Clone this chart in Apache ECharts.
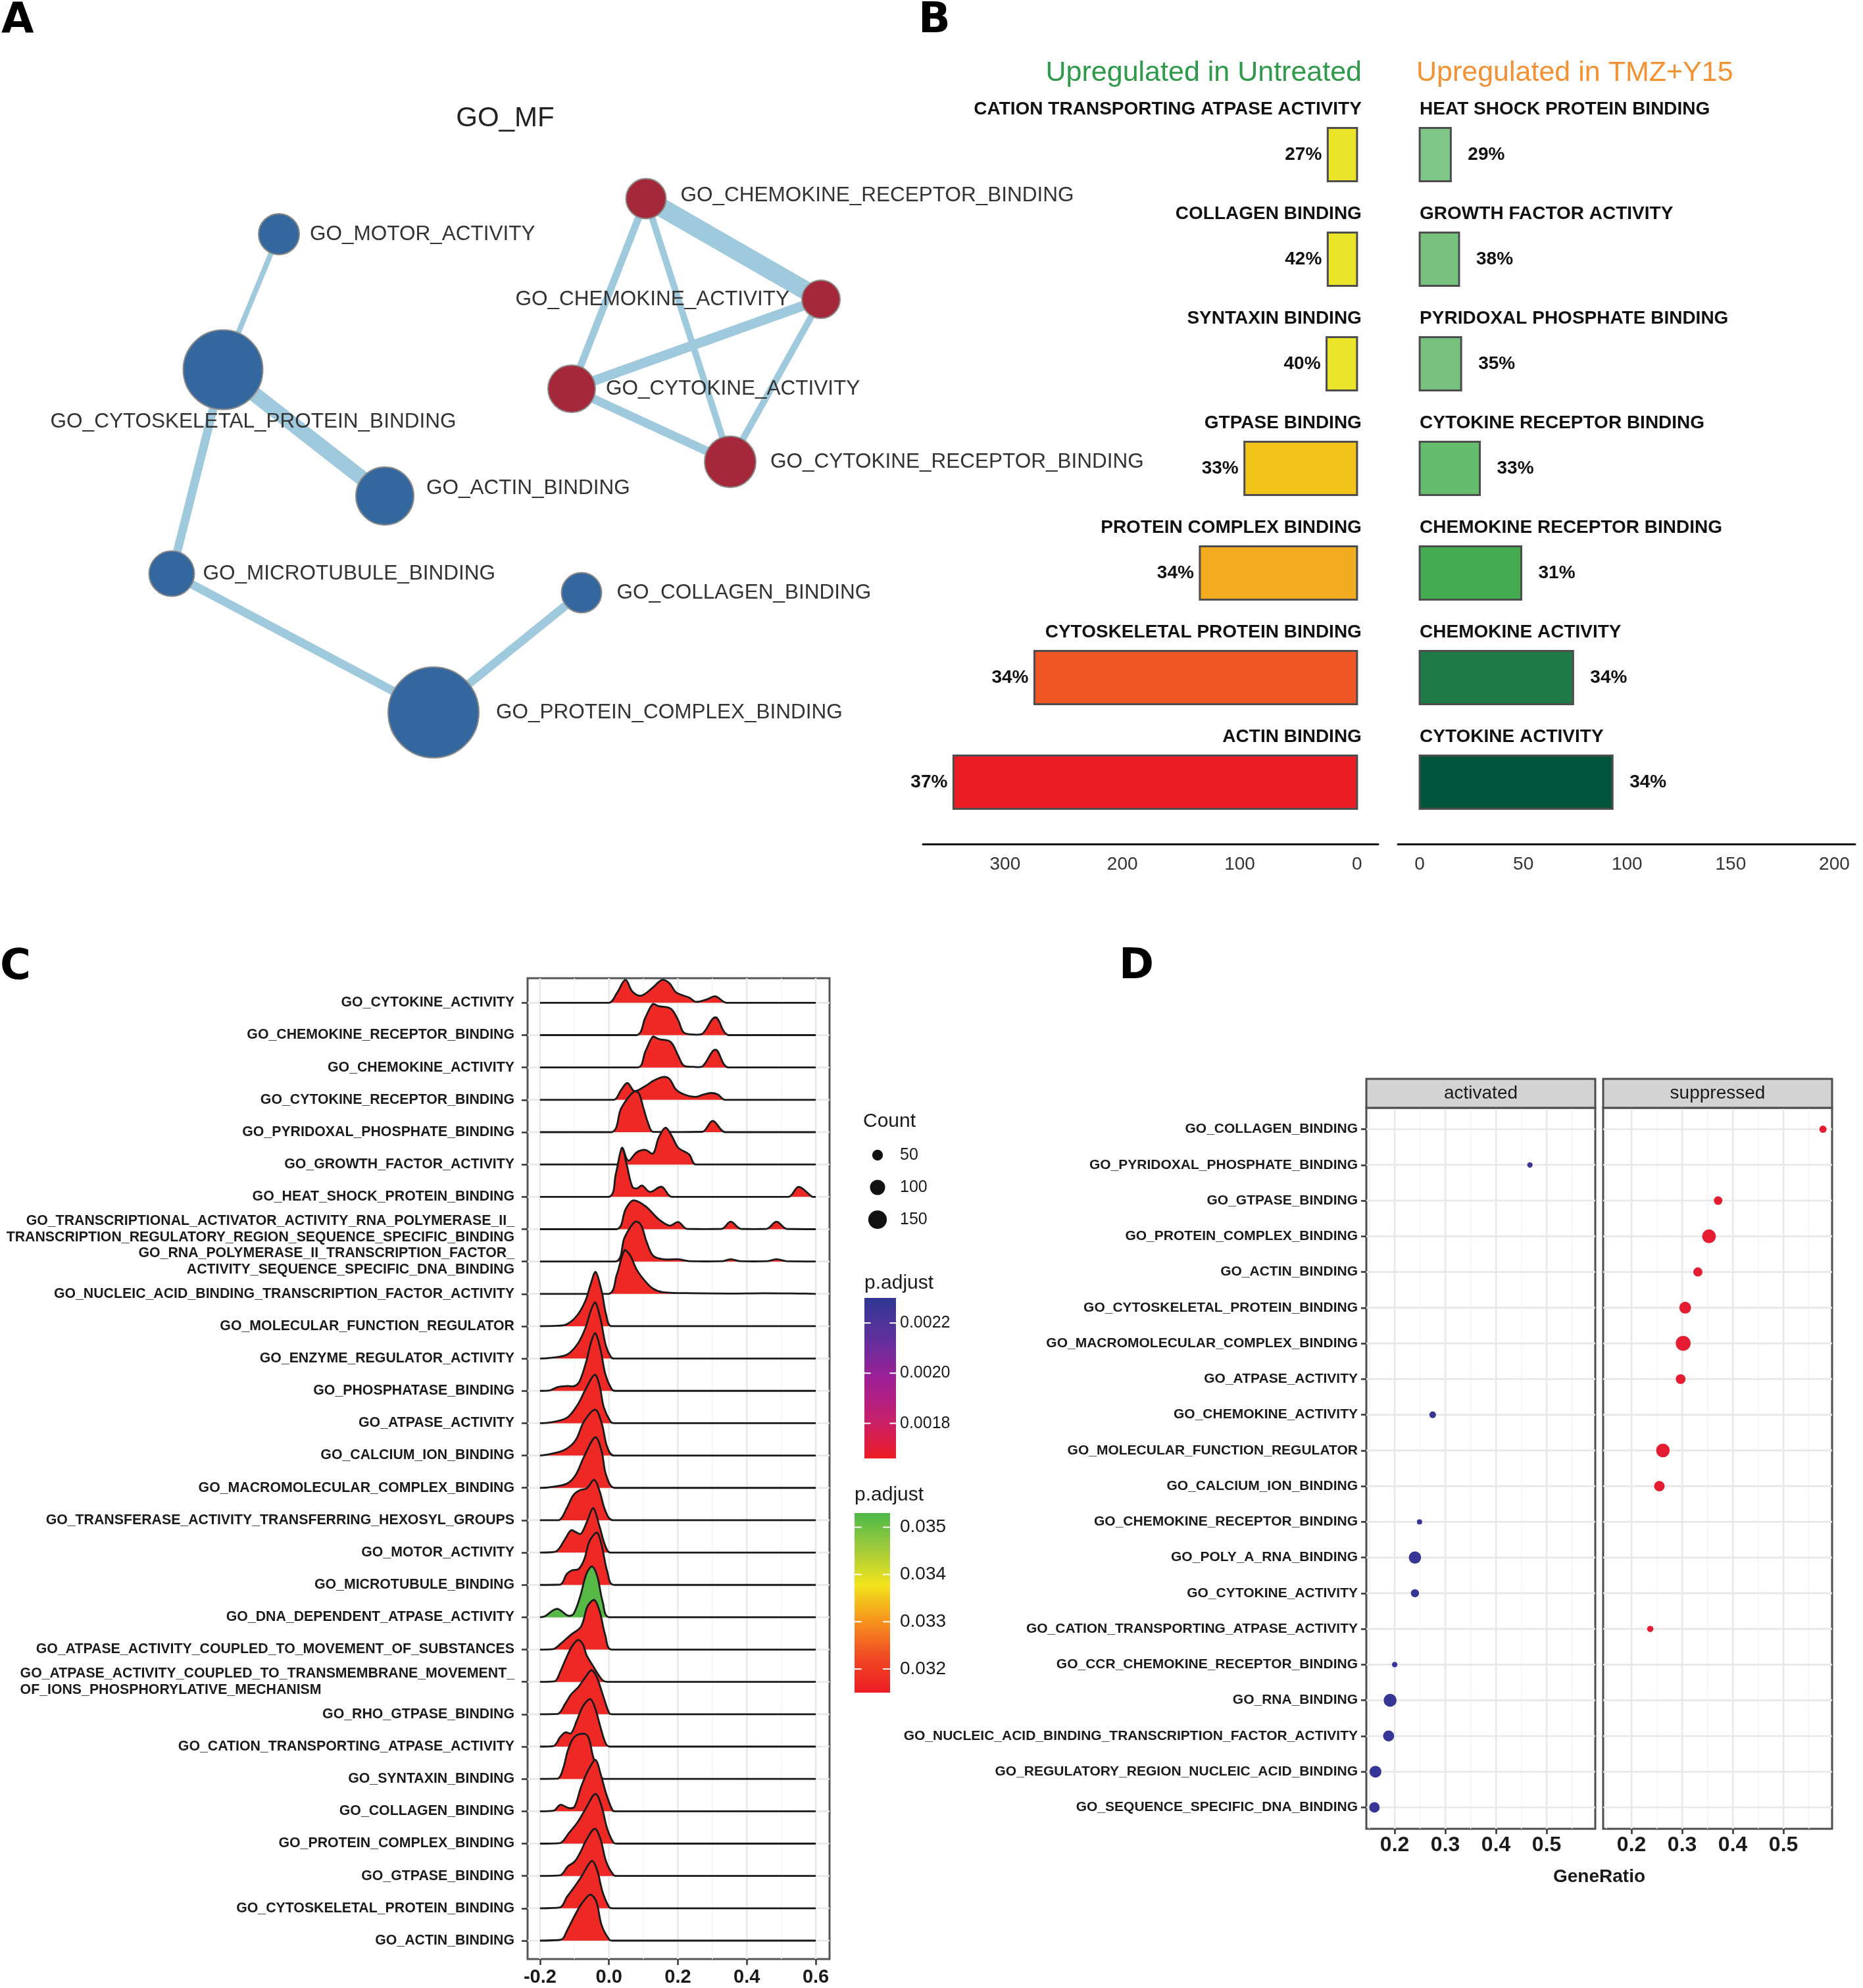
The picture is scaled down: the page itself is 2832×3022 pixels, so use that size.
<!DOCTYPE html>
<html><head><meta charset="utf-8"><title>GO enrichment figure</title>
<script src="https://cdn.jsdelivr.net/npm/echarts@6/dist/echarts.min.js"></script>
<style>html,body{margin:0;padding:0;background:#fff;}#chart{width:2832px;height:3022px;}</style>
</head><body><div id="chart"></div>
<script>
// ================= DATA =================
// ---- Panel A : GO_MF enrichment map ----
const netTerms = ['GO_MOTOR_ACTIVITY','GO_CYTOSKELETAL_PROTEIN_BINDING','GO_ACTIN_BINDING','GO_MICROTUBULE_BINDING','GO_COLLAGEN_BINDING','GO_PROTEIN_COMPLEX_BINDING','GO_CHEMOKINE_RECEPTOR_BINDING','GO_CHEMOKINE_ACTIVITY','GO_CYTOKINE_ACTIVITY','GO_CYTOKINE_RECEPTOR_BINDING'];
const netX = [424,339,585,261,884,659,982,1248,869,1110];
const netY = [356,562,754,872,901,1083,302,455,591,702];
const netNodeSize = [62,121,88,69,61,138,61,58,72,78];
const netRegulation = ['down','down','down','down','down','down','up','up','up','up'];
const netLinkSource = [0,1,1,3,4,6,6,6,7,7,8];
const netLinkTarget = [1,2,3,5,5,7,8,9,8,9,9];
const netLinkWidth  = [8,23,13,13,13,28,11,10,15,10,13];

// ---- Panel B : top terms per condition ----
const untreatedTerms = ['CATION TRANSPORTING ATPASE ACTIVITY','COLLAGEN BINDING','SYNTAXIN BINDING','GTPASE BINDING','PROTEIN COMPLEX BINDING','CYTOSKELETAL PROTEIN BINDING','ACTIN BINDING'];
const untreatedCount = [25,25,26,96,134,275,344];
const untreatedPct   = [27,42,40,33,34,34,37];
const tmzTerms = ['HEAT SHOCK PROTEIN BINDING','GROWTH FACTOR ACTIVITY','PYRIDOXAL PHOSPHATE BINDING','CYTOKINE RECEPTOR BINDING','CHEMOKINE RECEPTOR BINDING','CHEMOKINE ACTIVITY','CYTOKINE ACTIVITY'];
const tmzCount = [15,19,20,29,49,74,93];
const tmzPct   = [29,38,35,33,31,34,34];
const untreatedTicks = [0,100,200,300];
const tmzTicks = [0,50,100,150,200];

// ---- Panel C : ridgeline of core-enrichment distributions (top row first) ----
const ridgeTerms = ['GO_CYTOKINE_ACTIVITY','GO_CHEMOKINE_RECEPTOR_BINDING','GO_CHEMOKINE_ACTIVITY','GO_CYTOKINE_RECEPTOR_BINDING','GO_PYRIDOXAL_PHOSPHATE_BINDING','GO_GROWTH_FACTOR_ACTIVITY','GO_HEAT_SHOCK_PROTEIN_BINDING',
 'GO_TRANSCRIPTIONAL_ACTIVATOR_ACTIVITY_RNA_POLYMERASE_II_\nTRANSCRIPTION_REGULATORY_REGION_SEQUENCE_SPECIFIC_BINDING',
 'GO_RNA_POLYMERASE_II_TRANSCRIPTION_FACTOR_\nACTIVITY_SEQUENCE_SPECIFIC_DNA_BINDING',
 'GO_NUCLEIC_ACID_BINDING_TRANSCRIPTION_FACTOR_ACTIVITY','GO_MOLECULAR_FUNCTION_REGULATOR','GO_ENZYME_REGULATOR_ACTIVITY','GO_PHOSPHATASE_BINDING','GO_ATPASE_ACTIVITY','GO_CALCIUM_ION_BINDING','GO_MACROMOLECULAR_COMPLEX_BINDING','GO_TRANSFERASE_ACTIVITY_TRANSFERRING_HEXOSYL_GROUPS','GO_MOTOR_ACTIVITY','GO_MICROTUBULE_BINDING','GO_DNA_DEPENDENT_ATPASE_ACTIVITY','GO_ATPASE_ACTIVITY_COUPLED_TO_MOVEMENT_OF_SUBSTANCES',
 'GO_ATPASE_ACTIVITY_COUPLED_TO_TRANSMEMBRANE_MOVEMENT_\nOF_IONS_PHOSPHORYLATIVE_MECHANISM',
 'GO_RHO_GTPASE_BINDING','GO_CATION_TRANSPORTING_ATPASE_ACTIVITY','GO_SYNTAXIN_BINDING','GO_COLLAGEN_BINDING','GO_PROTEIN_COMPLEX_BINDING','GO_GTPASE_BINDING','GO_CYTOSKELETAL_PROTEIN_BINDING','GO_ACTIN_BINDING'];
const ridgePadj = [0.0317,0.0317,0.0317,0.0317,0.0317,0.0317,0.0317,0.0317,0.0317,0.0317,0.0317,0.0317,0.0317,0.0317,0.0317,0.0317,0.0317,0.0317,0.0317,0.0352,0.0317,0.0317,0.0317,0.0317,0.0317,0.0317,0.0317,0.0317,0.0317,0.0317];
// each curve: [x, density height in row units]
const ridgeCurves = [
 [[0.0,0],[0.023,0.3],[0.048,0.71],[0.068,0.35],[0.093,0.22],[0.125,0.45],[0.155,0.71],[0.176,0.6],[0.195,0.32],[0.233,0.16],[0.252,0.03],[0.283,0.1],[0.309,0.2],[0.341,0]],
 [[0.08,0],[0.106,0.55],[0.128,0.97],[0.144,0.9],[0.179,0.82],[0.201,0.46],[0.217,0.08],[0.245,0.02],[0.271,0.04],[0.309,0.55],[0.347,0]],
 [[0.084,0],[0.106,0.5],[0.128,0.96],[0.144,0.88],[0.179,0.79],[0.201,0.36],[0.217,0.06],[0.245,0.02],[0.271,0.03],[0.309,0.55],[0.346,0]],
 [[0.014,0],[0.035,0.3],[0.054,0.52],[0.074,0.27],[0.106,0.43],[0.131,0.6],[0.16,0.71],[0.176,0.64],[0.195,0.31],[0.22,0.16],[0.252,0.09],[0.271,0.15],[0.296,0.21],[0.315,0.17],[0.337,0]],
 [[0.008,0],[0.036,0.75],[0.074,1.27],[0.087,1.2],[0.1,0.75],[0.115,0.24],[0.128,0.01],[0.271,0.01],[0.301,0.35],[0.337,0]],
 [[0.023,0],[0.038,0.52],[0.056,0.12],[0.081,0.38],[0.106,0.45],[0.128,0.34],[0.144,0.82],[0.164,1.14],[0.182,0.89],[0.201,0.52],[0.233,0.31],[0.252,0]],
 [[0.0,0],[0.02,0.71],[0.038,1.51],[0.052,0.97],[0.068,0.31],[0.081,0.26],[0.096,0.35],[0.119,0.15],[0.153,0.31],[0.182,0],[0.521,0],[0.55,0.31],[0.59,0]],
 [[0.023,0],[0.049,0.63],[0.071,0.89],[0.106,0.71],[0.144,0.31],[0.176,0.11],[0.201,0.22],[0.226,0.01],[0.328,0.01],[0.353,0.23],[0.382,0.01],[0.458,0.01],[0.486,0.23],[0.515,0.01]],
 [[0.02,0],[0.046,0.76],[0.077,1.24],[0.093,1.13],[0.109,0.62],[0.128,0.18],[0.157,0.07],[0.201,0.07],[0.233,0.01],[0.33,0.01],[0.353,0.07],[0.38,0.01],[0.46,0.01],[0.486,0.07],[0.515,0.01]],
 [[0.0,0],[0.023,0.6],[0.046,1.36],[0.062,1.18],[0.081,0.74],[0.106,0.38],[0.128,0.16],[0.157,0.05],[0.25,0.02],[0.35,0.01],[0.45,0.02],[0.55,0.01]],
 [[-0.154,0.01],[-0.122,0.06],[-0.091,0.35],[-0.068,0.79],[-0.053,1.3],[-0.039,1.68],[-0.021,1.08],[-0.008,0.35],[0.008,0]],
 [[-0.17,0.02],[-0.122,0.12],[-0.091,0.45],[-0.068,0.95],[-0.052,1.5],[-0.04,1.74],[-0.024,1.2],[-0.009,0.4],[0.006,0.04],[0.016,0]],
 [[-0.17,0.02],[-0.148,0.12],[-0.122,0.15],[-0.1,0.15],[-0.085,0.3],[-0.066,0.9],[-0.052,1.5],[-0.04,1.79],[-0.025,1.3],[-0.01,0.5],[0.008,0.05],[0.018,0]],
 [[-0.173,0.02],[-0.122,0.17],[-0.091,0.57],[-0.068,1.04],[-0.041,1.5],[-0.027,1.15],[-0.015,0.5],[0.004,0.06],[0.015,0]],
 [[-0.173,0.04],[-0.128,0.18],[-0.097,0.47],[-0.072,1.06],[-0.04,1.42],[-0.021,1.0],[-0.005,0.26],[0.014,0]],
 [[-0.173,0.02],[-0.122,0.13],[-0.097,0.39],[-0.072,0.97],[-0.039,1.57],[-0.021,1.12],[-0.008,0.39],[0.017,0]],
 [[-0.145,0],[-0.122,0.38],[-0.103,0.78],[-0.084,0.93],[-0.065,0.98],[-0.043,1.25],[-0.027,0.9],[-0.011,0.31],[0.011,0]],
 [[-0.154,0.03],[-0.126,0.44],[-0.11,0.69],[-0.094,0.62],[-0.081,0.58],[-0.062,1.0],[-0.046,1.38],[-0.027,0.8],[-0.011,0.22],[0.004,0]],
 [[-0.141,0.01],[-0.122,0.34],[-0.107,0.45],[-0.088,0.49],[-0.072,0.78],[-0.056,1.36],[-0.035,1.62],[-0.021,1.22],[-0.005,0.42],[0.014,0]],
 [[-0.186,0.03],[-0.151,0.26],[-0.119,0.05],[-0.103,0.1],[-0.084,0.62],[-0.065,1.35],[-0.049,1.57],[-0.034,1.27],[-0.018,0.47],[0.001,0]],
 [[-0.16,0.02],[-0.141,0.17],[-0.11,0.46],[-0.081,0.71],[-0.062,1.34],[-0.043,1.54],[-0.027,1.19],[-0.011,0.46],[0.008,0]],
 [[-0.157,0.02],[-0.141,0.32],[-0.126,0.69],[-0.107,1.1],[-0.089,1.3],[-0.075,1.15],[-0.065,0.83],[-0.046,0.49],[-0.034,0.28],[-0.018,0.05],[-0.005,0]],
 [[-0.148,0.01],[-0.126,0.34],[-0.11,0.61],[-0.088,0.85],[-0.068,1.15],[-0.051,1.36],[-0.037,1.19],[-0.018,0.61],[0.001,0.03],[0.01,0]],
 [[-0.16,0.02],[-0.141,0.3],[-0.126,0.44],[-0.11,0.41],[-0.094,0.78],[-0.075,1.25],[-0.054,1.47],[-0.04,1.19],[-0.024,0.58],[-0.008,0.07],[0.005,0]],
 [[-0.148,0.01],[-0.132,0.35],[-0.119,0.89],[-0.1,1.3],[-0.072,1.4],[-0.059,1.27],[-0.046,0.69],[-0.03,0.22],[-0.015,0]],
 [[-0.16,0.02],[-0.141,0.2],[-0.116,0.1],[-0.1,0.14],[-0.081,0.75],[-0.059,1.29],[-0.039,1.59],[-0.024,1.15],[-0.008,0.54],[0.011,0.02],[0.02,0]],
 [[-0.141,0.02],[-0.116,0.33],[-0.091,0.66],[-0.068,1.07],[-0.039,1.54],[-0.021,1.14],[-0.005,0.46],[0.014,0.02],[0.025,0]],
 [[-0.141,0.02],[-0.119,0.3],[-0.1,0.44],[-0.084,0.71],[-0.065,1.12],[-0.041,1.46],[-0.024,1.12],[-0.008,0.44],[0.014,0.02],[0.025,0]],
 [[-0.141,0.03],[-0.122,0.35],[-0.103,0.62],[-0.081,0.96],[-0.049,1.47],[-0.034,1.17],[-0.018,0.49],[0.001,0.03],[0.01,0]],
 [[-0.138,0.03],[-0.122,0.3],[-0.094,0.88],[-0.075,1.2],[-0.054,1.42],[-0.037,1.22],[-0.021,0.47],[0.001,0.03],[0.01,0]]
];
const ridgeXRange = [-0.2, 0.6];
const ridgeXTicks = [-0.2, 0, 0.2, 0.4, 0.6];
const ridgeXMinor = [-0.1, 0.1, 0.3, 0.5];
const ridgeLegendTicks = [0.032, 0.033, 0.034, 0.035];

// ---- Panel D : dot plot activated / suppressed ----
const dotTerms = ['GO_COLLAGEN_BINDING','GO_PYRIDOXAL_PHOSPHATE_BINDING','GO_GTPASE_BINDING','GO_PROTEIN_COMPLEX_BINDING','GO_ACTIN_BINDING','GO_CYTOSKELETAL_PROTEIN_BINDING','GO_MACROMOLECULAR_COMPLEX_BINDING','GO_ATPASE_ACTIVITY','GO_CHEMOKINE_ACTIVITY','GO_MOLECULAR_FUNCTION_REGULATOR','GO_CALCIUM_ION_BINDING','GO_CHEMOKINE_RECEPTOR_BINDING','GO_POLY_A_RNA_BINDING','GO_CYTOKINE_ACTIVITY','GO_CATION_TRANSPORTING_ATPASE_ACTIVITY','GO_CCR_CHEMOKINE_RECEPTOR_BINDING','GO_RNA_BINDING','GO_NUCLEIC_ACID_BINDING_TRANSCRIPTION_FACTOR_ACTIVITY','GO_REGULATORY_REGION_NUCLEIC_ACID_BINDING','GO_SEQUENCE_SPECIFIC_DNA_BINDING'];
const actTerm  = [1,8,11,12,13,15,16,17,18,19];
const actRatio = [0.467,0.275,0.249,0.240,0.240,0.200,0.191,0.188,0.162,0.160];
const actCount = [13,19,12,66,29,13,73,53,61,48];
const actPadj  = [0.00226,0.00228,0.00228,0.00228,0.00228,0.00228,0.00228,0.00228,0.00228,0.00228];
const supTerm  = [0,2,3,4,5,6,7,9,10,14];
const supRatio = [0.578,0.371,0.353,0.331,0.306,0.302,0.297,0.262,0.255,0.237];
const supCount = [23,32,83,37,61,97,42,81,48,17];
const supPadj  = [0.00169,0.00169,0.00169,0.00169,0.00169,0.00169,0.00169,0.00169,0.00169,0.00169];
const dotXTicks = [0.2, 0.3, 0.4, 0.5];
const dotXMinor = [0.15, 0.25, 0.35, 0.45, 0.55];
const countLegendValues = [50, 100, 150];
const padjLegendTicks = [0.0018, 0.0020, 0.0022];

// ================= STYLE / LAYOUT =================
const FONT = "'Liberation Sans', Arial, Helvetica, sans-serif";
const LETTER_FONT = "'DejaVu Sans', sans-serif";
const untreatedColors = ['#ebe52a','#ebe52a','#ebe52a','#f2c31a','#f3ac20','#f05526','#ec1c24'];
const tmzColors = ['#7fc787','#77c27f','#75c17d','#65bc6c','#43aa4f','#1f7b45','#00563a'];
const ridgeColors = ['#ed1c24','#f04a24','#f7941d','#f2e41c','#a2cb3b','#4cb848'];
const ridgeColorRange = [0.0315, 0.0353];
const padjColors = ['#ed1c24','#c4206e','#9e1f96','#60309c','#2f3794'];
const padjColorRange = [0.00166, 0.0023];
const dotSize = c => 2.3 * Math.sqrt(c);

const netLabelStyle = [
 {position:'right', distance:15},
 {position:'bottom', distance:2, offset:[46,0]},
 {position:'right', distance:18, offset:[0,-12]},
 {position:'right', distance:12},
 {position:'right', distance:22},
 {position:'right', distance:25},
 {position:'right', distance:21, offset:[0,-5]},
 {position:'left', distance:18},
 {position:'right', distance:15},
 {position:'right', distance:21}
];

const L = {
  bTop:155.5, bBandH:159, bBarH:81, bLabelDy:69,
  bLeft:{left:1403, width:692, min:-18, max:370},
  bRight:{left:2125, width:695, min:-10.5, max:210},
  c:{left:802, top:1487, width:459, height:1491, xmin:-0.236, xmax:0.640, ymin:-0.57, ymax:29.76},
  d:{top:1684, height:1096, leftA:2077, leftS:2437, width:348, xmin:0.144, xmax:0.596, ymin:-0.6, ymax:19.6}
};

function txt(text, x, y, o) {
  o = o || {};
  const al = o.align || 'left', va = o.va || 'middle';
  return {type:'text', silent:true, z:10, style:{text:text, x:x, y:y, fill:o.color||'#222', fontSize:o.size||28,
    fontWeight:o.weight||'normal', fontFamily:o.family||FONT, align:al, verticalAlign:va, textAlign:al, textVerticalAlign:va}};
}

function gridLines(ai, xMajor, xMinor, yMajor, xr, yr) {
  return {
    type:'custom', xAxisIndex:ai, yAxisIndex:ai, silent:true, z:1,
    data:[[xr[0], yr[0]]],
    renderItem: function (params, api) {
      const ch = [];
      const add = (a, b, c, w) => ch.push({type:'line', shape:{x1:a[0], y1:a[1], x2:b[0], y2:b[1]}, style:{stroke:c, lineWidth:w}});
      xMinor.forEach(v => add(api.coord([v, yr[0]]), api.coord([v, yr[1]]), '#f3f3f3', 1.4));
      xMajor.forEach(v => add(api.coord([v, yr[0]]), api.coord([v, yr[1]]), '#e8e8e8', 2.6));
      yMajor.forEach(v => add(api.coord([xr[0], v]), api.coord([xr[1], v]), '#e8e8e8', 2.6));
      return {type:'group', children:ch};
    }
  };
}

function barSeries(ai, counts, pcts, terms, colors, isLeft) {
  return {
    type:'custom', xAxisIndex:ai, yAxisIndex:ai, silent:true, z:3,
    data: counts.map((v, i) => [v, i]),
    renderItem: function (params, api) {
      const i = api.value(1), v = api.value(0);
      const p0 = api.coord([0, i]), p1 = api.coord([v, i]);
      const x = Math.min(p0[0], p1[0]), w = Math.abs(p1[0] - p0[0]);
      const h = L.bBarH;
      const ch = [{type:'rect', shape:{x:x, y:p0[1] - h / 2, width:w, height:h}, style:{fill:colors[i], stroke:'#4d4d4d', lineWidth:3}}];
      if (isLeft) {
        ch.push(txt(pcts[i] + '%', x - 9, p0[1], {align:'right', weight:'bold', color:'#111'}));
        ch.push(txt(terms[i], p0[0] + 7, p0[1] - L.bLabelDy, {align:'right', weight:'bold', color:'#111'}));
      } else {
        ch.push(txt(pcts[i] + '%', x + w + 26, p0[1], {weight:'bold', color:'#111'}));
        ch.push(txt(terms[i], p0[0], p0[1] - L.bLabelDy, {weight:'bold', color:'#111'}));
      }
      return {type:'group', children:ch};
    }
  };
}

function gradientStops(colors) {
  return colors.map((c, k) => ({offset: 1 - k / (colors.length - 1), color: c}));
}

const rowCount = ridgeTerms.length;
const rowValues = ridgeTerms.map((t, i) => i);
const dotValues = dotTerms.map((t, i) => i);

// ---- axes ----
const hidden = {show:false};
const xAxes = [
  {gridIndex:0, type:'value', min:0, max:2832, show:false},
  {gridIndex:1, type:'value', min:L.bLeft.min, max:L.bLeft.max, inverse:true, offset:14.5,
    axisLine:{show:true, onZero:false, lineStyle:{color:'#111', width:3}}, axisTick:hidden, splitLine:hidden,
    axisLabel:{customValues:untreatedTicks, margin:17, fontSize:28, color:'#333', fontFamily:FONT}},
  {gridIndex:2, type:'value', min:L.bRight.min, max:L.bRight.max, offset:14.5,
    axisLine:{show:true, onZero:false, lineStyle:{color:'#111', width:3}}, axisTick:hidden, splitLine:hidden,
    axisLabel:{customValues:tmzTicks, margin:17, fontSize:28, color:'#333', fontFamily:FONT}},
  {gridIndex:3, type:'value', min:L.c.xmin, max:L.c.xmax, splitLine:hidden,
    axisLine:{show:false, onZero:false}, axisTick:{show:true, customValues:ridgeXTicks, length:9, lineStyle:{color:'#333', width:2.5}},
    axisLabel:{customValues:ridgeXTicks, margin:13, fontSize:29, fontWeight:'bold', color:'#1a1a1a', fontFamily:FONT, formatter:v => v.toFixed(1)}},
  {gridIndex:4, type:'value', min:L.d.xmin, max:L.d.xmax, splitLine:hidden,
    axisLine:{show:false, onZero:false}, axisTick:{show:true, customValues:dotXTicks, length:8, lineStyle:{color:'#333', width:2.5}},
    axisLabel:{customValues:dotXTicks, margin:9, fontSize:32, fontWeight:'bold', color:'#1a1a1a', fontFamily:FONT, formatter:v => v.toFixed(1)}},
  {gridIndex:5, type:'value', min:L.d.xmin, max:L.d.xmax, splitLine:hidden,
    axisLine:{show:false, onZero:false}, axisTick:{show:true, customValues:dotXTicks, length:8, lineStyle:{color:'#333', width:2.5}},
    axisLabel:{customValues:dotXTicks, margin:9, fontSize:32, fontWeight:'bold', color:'#1a1a1a', fontFamily:FONT, formatter:v => v.toFixed(1)}}
];
const ridgeLabelFont = {fontSize:21.3, fontWeight:'bold', color:'#1a1a1a', fontFamily:FONT};
const yAxes = [
  {gridIndex:0, type:'value', min:0, max:3022, inverse:true, show:false},
  {gridIndex:1, type:'category', data:untreatedTerms, inverse:true, show:false},
  {gridIndex:2, type:'category', data:tmzTerms, inverse:true, show:false},
  {gridIndex:3, type:'value', min:L.c.ymin, max:L.c.ymax, splitLine:hidden,
    axisLine:{show:false, onZero:false}, axisTick:{show:true, customValues:rowValues, length:9, lineStyle:{color:'#333', width:2.5}},
    axisLabel:Object.assign({customValues:rowValues, margin:20, lineHeight:25,
      formatter: v => {
        const t = ridgeTerms[rowCount - 1 - Math.round(v)] || '';
        if (t.indexOf('TRANSMEMBRANE') >= 0) return t.split('\n').map(s => '{l|' + s + '}').join('\n');
        return t;
      },
      rich:{l:Object.assign({align:'left', lineHeight:25}, ridgeLabelFont)}}, ridgeLabelFont)},
  {gridIndex:4, type:'value', min:L.d.ymin, max:L.d.ymax, inverse:true, splitLine:hidden,
    axisLine:{show:false, onZero:false}, axisTick:{show:true, customValues:dotValues, length:8, lineStyle:{color:'#333', width:2.5}},
    axisLabel:{customValues:dotValues, margin:13, fontSize:21, fontWeight:'bold', color:'#1a1a1a', fontFamily:FONT, formatter: v => dotTerms[Math.round(v)] || ''}},
  {gridIndex:5, type:'value', min:L.d.ymin, max:L.d.ymax, inverse:true, splitLine:hidden,
    axisLine:{show:false, onZero:false}, axisTick:hidden, axisLabel:hidden}
];

const grids = [
  {left:0, top:0, width:2832, height:3022, show:false},
  {left:L.bLeft.left, top:L.bTop, width:L.bLeft.width, height:L.bBandH * 7, show:false},
  {left:L.bRight.left, top:L.bTop, width:L.bRight.width, height:L.bBandH * 7, show:false},
  {left:L.c.left, top:L.c.top, width:L.c.width, height:L.c.height, show:true, borderColor:'#555', borderWidth:3, backgroundColor:'#fff'},
  {left:L.d.leftA, top:L.d.top, width:L.d.width, height:L.d.height, show:true, borderColor:'#4d4d4d', borderWidth:3, backgroundColor:'#fff'},
  {left:L.d.leftS, top:L.d.top, width:L.d.width, height:L.d.height, show:true, borderColor:'#4d4d4d', borderWidth:3, backgroundColor:'#fff'}
];

// ---- series ----
const series = [];
series.push({
  type:'graph', coordinateSystem:'cartesian2d', xAxisIndex:0, yAxisIndex:0, silent:true, z:3,
  symbol:'circle', edgeSymbol:['none','none'],
  data: netTerms.map((t, i) => ({name:t, value:[netX[i], netY[i]], symbolSize:netNodeSize[i],
    itemStyle:{color: netRegulation[i] === 'up' ? '#a5283a' : '#35679f', borderColor:'#8a8a8a', borderWidth:2},
    label:Object.assign({show:true, fontSize:31.5, color:'#333', fontFamily:FONT, formatter:'{b}'}, netLabelStyle[i])})),
  links: netLinkSource.map((s, i) => ({source:s, target:netLinkTarget[i], lineStyle:{width:netLinkWidth[i]}})),
  lineStyle:{color:'#9fc9dc', opacity:1, curveness:0}
});
series.push(barSeries(1, untreatedCount, untreatedPct, untreatedTerms, untreatedColors, true));
series.push(barSeries(2, tmzCount, tmzPct, tmzTerms, tmzColors, false));
series.push(gridLines(3, ridgeXTicks, ridgeXMinor, rowValues, [L.c.xmin, L.c.xmax], [L.c.ymin, L.c.ymax]));
series.push({
  type:'custom', xAxisIndex:3, yAxisIndex:3, silent:true, z:2,
  data: ridgeTerms.map((t, i) => [i, ridgePadj[i]]),
  renderItem: function (params, api) {
    const i = params.dataIndex;
    const base = rowCount - 1 - i;
    const pts = [[ridgeXRange[0], 0]].concat(ridgeCurves[i], [[ridgeXRange[1], 0]]);
    const pix = pts.map(p => api.coord([p[0], base + p[1]]));
    let mnx = Infinity, mny = Infinity, mxx = -Infinity, mxy = -Infinity;
    pix.forEach(p => { mnx = Math.min(mnx, p[0]); mny = Math.min(mny, p[1]); mxx = Math.max(mxx, p[0]); mxy = Math.max(mxy, p[1]); });
    const cons = [[mnx, mny], [mxx, mxy]];
    return {type:'group', children:[
      {type:'polygon', shape:{points:pix, smooth:0.35, smoothConstraint:cons}, style:{fill:api.visual('color'), stroke:null}},
      {type:'polyline', shape:{points:pix, smooth:0.35, smoothConstraint:cons}, style:{fill:null, stroke:'#1a1a1a', lineWidth:2.8, lineJoin:'round'}}
    ]};
  }
});
series.push(gridLines(4, dotXTicks, dotXMinor, dotValues, [L.d.xmin, L.d.xmax], [L.d.ymin, L.d.ymax]));
series.push(gridLines(5, dotXTicks, dotXMinor, dotValues, [L.d.xmin, L.d.xmax], [L.d.ymin, L.d.ymax]));
series.push({type:'scatter', xAxisIndex:4, yAxisIndex:4, z:3, silent:true,
  data: actTerm.map((t, i) => [actRatio[i], t, actCount[i], actPadj[i]]), symbolSize: d => dotSize(d[2]), itemStyle:{opacity:1}});
series.push({type:'scatter', xAxisIndex:5, yAxisIndex:5, z:3, silent:true,
  data: supTerm.map((t, i) => [supRatio[i], t, supCount[i], supPadj[i]]), symbolSize: d => dotSize(d[2]), itemStyle:{opacity:1}});

// ---- graphics: panel letters, titles, legends, strips ----
const G = [];
G.push(txt('A', 2, 33, {size:64, weight:'bold', family:LETTER_FONT, color:'#000'}));
G.push(txt('B', 1396, 32, {size:64, weight:'bold', family:LETTER_FONT, color:'#000'}));
G.push(txt('C', 0, 1471, {size:64, weight:'bold', family:LETTER_FONT, color:'#000'}));
G.push(txt('D', 1701, 1470, {size:64, weight:'bold', family:LETTER_FONT, color:'#000'}));
G.push(txt('GO_MF', 768, 180, {size:42, align:'center', color:'#222'}));
G.push(txt('Upregulated in Untreated', 2070, 111, {size:43, align:'right', color:'#2f9a4a'}));
G.push(txt('Upregulated in TMZ+Y15', 2153, 111, {size:43, color:'#f39234'}));

G.push(txt('Count', 1312, 1705, {size:30, color:'#1a1a1a'}));
countLegendValues.forEach((c, k) => {
  const cy = 1756 + k * 49;
  G.push({type:'circle', silent:true, z:10, shape:{cx:1334, cy:cy, r:dotSize(c) / 2}, style:{fill:'#111'}});
  G.push(txt(String(c), 1368, cy, {size:25, color:'#1a1a1a'}));
});
function colorBar(x, y, w, h, colors, range, ticks, digits, titleY, labelX, labelSize) {
  G.push(txt('p.adjust', x, titleY, {size:30, color:'#1a1a1a'}));
  G.push({type:'rect', silent:true, z:10, shape:{x:x, y:y, width:w, height:h},
    style:{fill:new echarts.graphic.LinearGradient(0, 0, 0, 1, gradientStops(colors))}});
  ticks.forEach(v => {
    const ty = y + h * (1 - (v - range[0]) / (range[1] - range[0]));
    G.push({type:'line', silent:true, z:11, shape:{x1:x, y1:ty, x2:x + w * 0.2, y2:ty}, style:{stroke:'#fff', lineWidth:2}});
    G.push({type:'line', silent:true, z:11, shape:{x1:x + w * 0.8, y1:ty, x2:x + w, y2:ty}, style:{stroke:'#fff', lineWidth:2}});
    G.push(txt(v.toFixed(digits), labelX, ty, {size:labelSize, color:'#1a1a1a'}));
  });
}
colorBar(1314, 1973, 48, 244, padjColors, padjColorRange, padjLegendTicks, 4, 1951, 1368, 25);
colorBar(1299, 2300, 54, 273, ridgeColors, ridgeColorRange, ridgeLegendTicks, 3, 2273, 1368, 28);

[['activated', L.d.leftA], ['suppressed', L.d.leftS]].forEach(s => {
  G.push({type:'rect', silent:true, z:10, shape:{x:s[1], y:1640, width:L.d.width, height:44}, style:{fill:'#d3d3d3', stroke:'#4d4d4d', lineWidth:3}});
  G.push(txt(s[0], s[1] + L.d.width / 2, 1662, {size:28, align:'center', color:'#1a1a1a'}));
});
G.push(txt('GeneRatio', (L.d.leftA + L.d.leftS + L.d.width) / 2, 2853, {size:28, align:'center', weight:'bold', color:'#1a1a1a'}));

const option = {
  animation:false,
  backgroundColor:'#ffffff',
  textStyle:{fontFamily:FONT},
  grid:grids, xAxis:xAxes, yAxis:yAxes, series:series,
  visualMap:[
    {type:'continuous', show:false, seriesIndex:4, dimension:1, min:ridgeColorRange[0], max:ridgeColorRange[1], inRange:{color:ridgeColors}},
    {type:'continuous', show:false, seriesIndex:[7, 8], dimension:3, min:padjColorRange[0], max:padjColorRange[1], inRange:{color:padjColors}}
  ],
  graphic:{elements:G}
};

const chart = echarts.init(document.getElementById('chart'), null, {width:2832, height:3022});
chart.setOption(option);
</script>
</body></html>
